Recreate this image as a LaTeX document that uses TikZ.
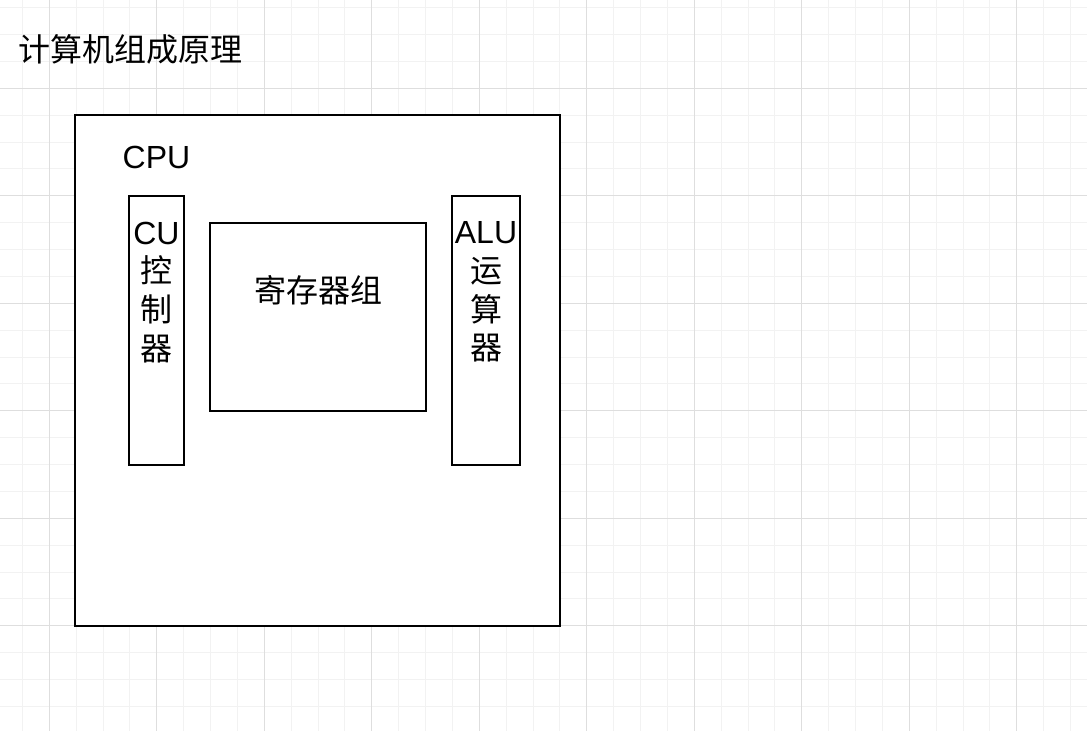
\documentclass[tikz,border=0pt]{standalone}
\usepackage{fontspec}
\setmainfont{Liberation Sans}
\newfontfamily\cjk{Noto Sans CJK SC}
\usepackage{tikz}
\usetikzlibrary{positioning, fit}
\definecolor{rejillafina}{RGB}{242,242,242}
\definecolor{rejillagruesa}{RGB}{222,222,222}

\begin{document}
\begin{tikzpicture}[x=0.75pt, y=-0.75pt,
    caja/.style={draw, fill=white, line width=2pt, inner sep=0pt},
    texto/.style={font=\fontsize{24}{29}\selectfont, inner sep=0pt, align=center},
    fina/.style={rejillafina, line width=0.75pt},
    gruesa/.style={rejillagruesa, line width=0.75pt},
]
\useasboundingbox (0,0) rectangle (1087,731);
\fill[white] (0,0) rectangle (1087,731);

%% Rejilla de fondo
\foreach \i in {0,...,40}
  \draw[fina] (22.4+26.875*\i, 0) -- (22.4+26.875*\i, 731);
\foreach \j in {0,...,27}
  \draw[fina] (0, 7.7+26.875*\j) -- (1087, 7.7+26.875*\j);
\foreach \i in {0,...,9}
  \draw[gruesa] (49.3+107.5*\i, 0) -- (49.3+107.5*\i, 731);
\foreach \j in {0,...,6}
  \draw[gruesa] (0, 88.3+107.5*\j) -- (1087, 88.3+107.5*\j);

%% Titulo
\node[texto, anchor=west] (titulo) at (18,49) {\cjk 计算机组成原理};

%% Cajas
\node[caja, fit={(75,115) (560,626)}]  (cpu) {};
\node[caja, fit={(129,196) (184,465)}] (cu)  {};
\node[caja, fit={(210,223) (426,411)}] (reg) {};
\node[caja, fit={(452,196) (520,465)}] (alu) {};

%% Textos
\node[texto] (cputxt) at (156.5,157) {CPU};
\node[texto, anchor=north] (cutxt) at (cu.north |- 0,221.7)
    {CU\\{\cjk 控}\\{\cjk 制}\\{\cjk 器}};
\node[texto] (regtxt) at (reg.center |- 0,290) {\cjk 寄存器组};
\node[texto, anchor=north] (alutxt) at (alu.north |- 0,221.7)
    {ALU\\{\cjk 运}\\{\cjk 算}\\{\cjk 器}};
\end{tikzpicture}
\end{document}
